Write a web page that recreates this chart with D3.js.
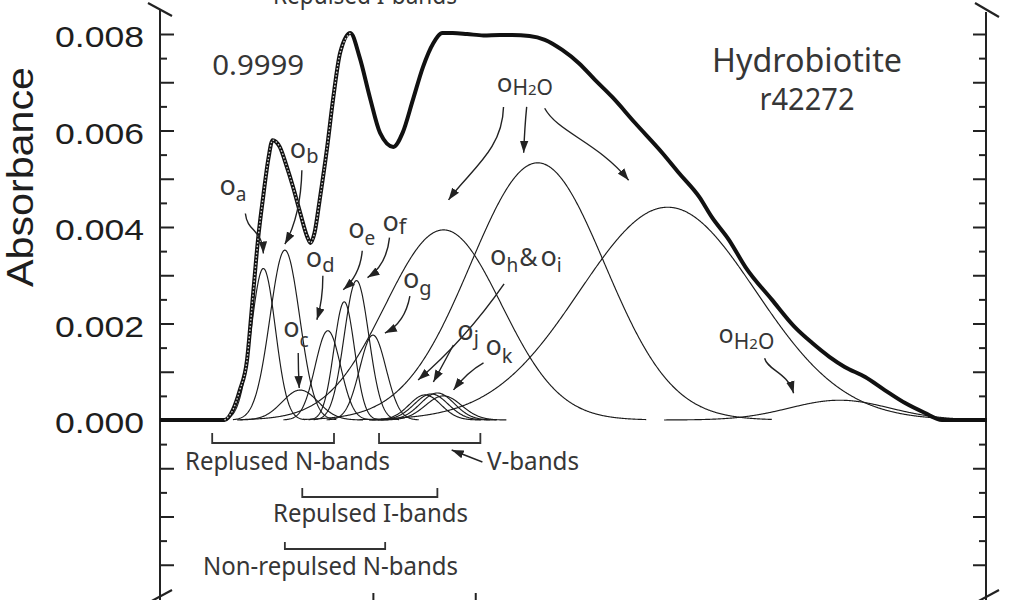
<!DOCTYPE html>
<html><head><meta charset="utf-8">
<script src="https://cdn.jsdelivr.net/npm/d3@7"></script>
<style>
body{margin:0;background:#fff;}
svg{display:block;}
</style>
</head><body>
<svg id="c" width="1024" height="600"></svg>
<script>
// ---------- DATA ----------
// measured spectrum (wavenumber, cm-1) and absorbance
const envWavenumber = [3808,3745,3737,3730,3723,3718,3712,3707,3702,3698,3691,3684,3678,3671,3664,3661,3657,3652,3645,3639,3632,3622,3613,3603,3593,3580,3571,3561,3551,3541,3532,3522,3508,3492,3476,3464,3447,3432,3415,3399,3383,3366,3344,3317,3301,3281,3269,3252,3236,3210,3188,3171,3154,3139,3119,3100,3080,3061,3044,3000];
const envAbsorbance = [0,0,0.0002,0.00062,0.00124,0.00238,0.00379,0.00466,0.00543,0.0058,0.00566,0.00524,0.00483,0.00429,0.00379,0.00367,0.00388,0.00456,0.0056,0.00663,0.00761,0.00802,0.00752,0.00669,0.00595,0.00566,0.00595,0.00663,0.00732,0.00781,0.00802,0.00802,0.008,0.00797,0.00798,0.00798,0.00796,0.00788,0.00767,0.0074,0.00705,0.00669,0.00616,0.00553,0.00512,0.00462,0.00421,0.00373,0.00317,0.00249,0.00193,0.0016,0.00131,0.0011,0.00089,0.00062,0.00035,0.00015,0,0];
// fitted bands
const bandNames   = ["oa","ob","oc","od","oe","of","og","oh","oi","oj","ok","oH2O","oH2O","oH2O","oH2O"];
const bandCenters = [3707,3686,3671,3644,3628,3616,3600,3549,3543,3537,3531,3531,3439,3312,3144];
const bandHeights = [0.00314,0.00352,0.00062,0.00185,0.00245,0.00289,0.00176,0.00052,0.00054,0.00056,0.00050,0.00394,0.00533,0.00441,0.00041];
const bandWidths  = [11.7,14.5,17.6,12.4,10.0,12.0,12.9,15.6,16.6,16.6,17.6,56.7,65.5,86,49];
// axis ticks
const yLabelTicks = [0,0.002,0.004,0.006,0.008];
const yMajorTicks = [-0.003,-0.002,-0.001,0,0.001,0.002,0.003,0.004,0.005,0.006,0.007,0.008];
const yMinorTicks = [-0.0025,-0.0015,-0.0005,0.0005,0.0015,0.0025,0.0035,0.0045,0.0055,0.0065,0.0075];
const xTicks = [3600,3500];
// band groups (wavenumber ranges)
const groupNames = ["Replused N-bands","V-bands","Repulsed I-bands","Non-repulsed N-bands"];
const groupStart = [3757,3594,3669,3686];
const groupEnd   = [3638,3495,3537,3588];

// ---------- LAYOUT ----------
const W = 1024, H = 600;
const svg = d3.select("#c");
const x = d3.scaleLinear().domain([3808,3000]).range([160,987]);
const y = d3.scaleLinear().domain([0,0.008]).range([420,34]);
const ink = "#222", txt = "#363636";
const annoFont = "'Noto Sans', 'Open Sans', sans-serif";

// arrow marker
svg.append("defs").append("marker")
  .attr("id","ah").attr("viewBox","0 -5 12 10").attr("refX",12).attr("refY",0)
  .attr("markerWidth",12).attr("markerHeight",10).attr("markerUnits","userSpaceOnUse")
  .attr("orient","auto")
  .append("path").attr("d","M0,-4.2L12,0L0,4.2Z").attr("fill",ink);

// ---------- AXES ----------
const axL = 160, axR = 986;
const yTop = y(0.0085);
svg.append("line").attr("x1",axL).attr("x2",axL).attr("y1",yTop).attr("y2",H).attr("stroke",ink).attr("stroke-width",2);
svg.append("line").attr("x1",axR).attr("x2",axR).attr("y1",yTop+2).attr("y2",H).attr("stroke",ink).attr("stroke-width",2);

function tickG(xpos, fn, vals, size){
  svg.append("g").attr("transform",`translate(${xpos},0)`)
    .call(fn(y).tickValues(vals).tickSize(size).tickFormat(""))
    .call(g=>g.select(".domain").remove())
    .selectAll("line").attr("stroke",ink).attr("stroke-width",2);
}
tickG(axL, d3.axisRight, yMajorTicks, 14);
tickG(axL, d3.axisRight, yMinorTicks, 7);
tickG(axR, d3.axisLeft, yMajorTicks, 13);
tickG(axR, d3.axisLeft, yMinorTicks, 7);

svg.append("g").attr("transform",`translate(${axL},0)`)
  .call(d3.axisLeft(y).tickValues(yLabelTicks).tickSize(0).tickPadding(16).tickFormat(d3.format(".3f")))
  .call(g=>g.select(".domain").remove())
  .selectAll("text")
  .attr("font-family","'Liberation Sans', Arial, sans-serif").attr("font-size",30)
  .attr("dy","0.42em").attr("fill","#1e1e1e")
  .attr("textLength",89).attr("lengthAdjust","spacingAndGlyphs");

// bottom x-axis (only tick stubs visible)
svg.append("g").attr("transform","translate(0,606)")
  .call(d3.axisTop(x).tickValues(xTicks).tickSize(13).tickFormat(""))
  .call(g=>g.select(".domain").remove())
  .selectAll("line").attr("stroke",ink).attr("stroke-width",2);

// axis break marks
[[148,3,172,16],[975,3,999,17],[148,603,172,590],[975,603,999,590]].forEach(b=>{
  svg.append("line").attr("x1",b[0]).attr("y1",b[1]).attr("x2",b[2]).attr("y2",b[3])
    .attr("stroke",ink).attr("stroke-width",2.2);
});

svg.append("text").attr("transform",`translate(33,177) rotate(-90)`)
  .attr("text-anchor","middle").attr("font-family","'Liberation Sans', Arial, sans-serif")
  .attr("font-size",36).attr("fill","#1e1e1e")
  .attr("textLength",220).attr("lengthAdjust","spacingAndGlyphs")
  .text("Absorbance");

// ---------- BANDS ----------
const line = d3.line().x(d=>x(d[0])).y(d=>y(d[1]));
function bandVal(i,w){ const z=(w-bandCenters[i])/bandWidths[i]; return bandHeights[i]*Math.exp(-0.5*z*z); }
const [wMax, wMin] = x.domain();
const bandG = svg.append("g");
bandCenters.forEach((c,i)=>{
  const s = bandWidths[i];
  const pts = d3.range(Math.min(wMax, c+3.5*s), Math.max(wMin, c-3.5*s), -0.5).map(w=>[w,bandVal(i,w)]);
  bandG.append("path").attr("d",line(pts)).attr("fill","none")
    .attr("stroke","#1c1c1c").attr("stroke-width",1.15);
});

// ---------- ENVELOPE ----------
const env = envWavenumber.map((w,i)=>[w,envAbsorbance[i]]);
const envLine = d3.line().x(d=>x(d[0])).y(d=>y(d[1])).curve(d3.curveMonotoneX);
svg.append("path").attr("d",envLine(env)).attr("fill","none")
  .attr("stroke","#111").attr("stroke-width",4).attr("stroke-linejoin","round");
// fitted sum, visible as dotted overlay on the left part
svg.append("path").attr("d",envLine(env.filter(d=>d[0]>=3620 && d[0]<=3746))).attr("fill","none")
  .attr("stroke","#d0d0d0").attr("stroke-width",1.4).attr("stroke-dasharray","1.6 1.9");

// ---------- ANNOTATIONS ----------
const peak = i => [x(bandCenters[i]), y(bandHeights[i])];
const bandNotes = [
 {at:0, pos:[-44,-73], parts:[["o",27,0],["a",19,6]], arrows:[{to:0, pts:[[-18,-55],[-16,-36],[-1,-40],[0,-15]]}]},
 {at:1, pos:[5,-92], parts:[["o",27,0],["b",20,5]], arrows:[{to:1, pts:[[17,-80],[16,-35],[0,-6]]}]},
 {at:2, pos:[-17,-53], parts:[["o",27,0],["c",19,10]], arrows:[{to:2, pts:[[-2,-37],[-2,-20],[-1,-2]]}]},
 {at:3, pos:[-22,-64], parts:[["o",27,0],["d",20,5]], arrows:[{to:3, pts:[[-5,-55],[-5,-30],[-11,-11]]}]},
 {at:4, pos:[4,-64], parts:[["o",27,0],["e",19,7]], arrows:[{to:4, pts:[[18,-51],[16,-27],[-1,-12]]}]},
 {at:5, pos:[26,-50], parts:[["o",27,0],["f",22,3]], arrows:[{to:5, pts:[[33,-43],[30,-15],[11,-3]]}]},
 {at:6, pos:[30,-47], parts:[["o",27,0],["g",20,7]], arrows:[{to:6, pts:[[37,-39],[32,-12],[12,-2]]}]},
 {at:7, pos:[65,-130], parts:[["o",27,0],["h",19,7],["&",25,1,1],["o",27,1,3],["i",19,7]], arrows:[{to:7, pts:[[79,-111],[40,-55],[-7,-15]]}]},
 {at:9, pos:[20,-53], parts:[["o",27,0],["j",20,5]], arrows:[{to:9, pts:[[16,-48],[8,-33],[-4,-11]]}]},
 {at:10, pos:[42,-41], parts:[["o",27,0],["k",20,8]], arrows:[{to:10, pts:[[40,-33],[24,-24],[10,-6]]}]},
 {at:12, pos:[-41,-71], parts:[["o",26,0],["H",21,3],["2",15,3],["O",21,3]], arrows:[
    {to:11, pts:[[60,-123],[59,-80],[27,-60],[5,-30]]},
    {to:12, pts:[[-11,-56],[-13,-36],[-14,-10]]},
    {to:13, pts:[[-123,-99],[-110,-75],[-70,-65],[-39,-27]]}]},
 {at:14, pos:[-121,-57], parts:[["o",25,0],["H",21,6],["2",15,6],["O",21,6]], arrows:[{to:14, pts:[[-75,-42],[-72,-30],[-52,-28],[-46,-7]]}]}
];
const annoG = svg.append("g");
bandNotes.forEach(n=>{
  const p = peak(n.at);
  const t = annoG.append("text").attr("x",p[0]+n.pos[0]).attr("y",p[1]+n.pos[1])
    .attr("font-family",annoFont).attr("fill",txt);
  let prev = 0;
  n.parts.forEach(pt=>{
    t.append("tspan").attr("font-size",pt[1]).attr("dy",pt[2]-prev).attr("dx",pt[3]||0).text(pt[0]);
    prev = pt[2];
  });
  n.arrows.forEach(a=>{
    const q = peak(a.to);
    const P = a.pts.map(d=>[q[0]+d[0], q[1]+d[1]]);
    const d = P.length===3
      ? `M${P[0]}Q${P[1]} ${P[2]}`
      : `M${P[0]}C${P[1]} ${P[2]} ${P[3]}`;
    annoG.append("path").attr("d",d).attr("fill","none").attr("stroke",ink)
      .attr("stroke-width",1.4).attr("marker-end","url(#ah)");
  });
});

// fit quality & sample
svg.append("text").attr("x",x(3757)).attr("y",75).attr("font-family",annoFont)
  .attr("font-size",27).attr("fill",txt).attr("textLength",92).attr("lengthAdjust","spacingAndGlyphs").text("0.9999");
svg.append("text").attr("x",807).attr("y",72).attr("text-anchor","middle").attr("font-family",annoFont)
  .attr("font-size",32).attr("fill",txt).attr("textLength",190).attr("lengthAdjust","spacingAndGlyphs").text("Hydrobiotite");
svg.append("text").attr("x",807).attr("y",110).attr("text-anchor","middle").attr("font-family",annoFont)
  .attr("font-size",31).attr("fill",txt).attr("textLength",95).attr("lengthAdjust","spacingAndGlyphs").text("r42272");

// band-group brackets
const bracketY = [443,443,497,549], bracketH = [10,10,9,7];
const groupText = [[185,470,205],[487,470,92],[273,522,195],[203,575,255]];
groupNames.forEach((g,i)=>{
  const x0 = x(groupStart[i]), x1 = x(groupEnd[i]), yb = bracketY[i];
  svg.append("path").attr("d",`M${x0},${yb-bracketH[i]}V${yb}H${x1}V${yb-bracketH[i]}`)
    .attr("fill","none").attr("stroke","#333").attr("stroke-width",1.8);
  svg.append("text").attr("x",groupText[i][0]).attr("y",groupText[i][1]).attr("font-family",annoFont)
    .attr("font-size",25).attr("fill",txt).attr("textLength",groupText[i][2]).attr("lengthAdjust","spacingAndGlyphs").text(g);
});
// V-bands pointer
svg.append("path").attr("d",`M${x(3493)},462L${x(3523)},450`).attr("fill","none")
  .attr("stroke",ink).attr("stroke-width",1.4).attr("marker-end","url(#ah)");
// label cropped at top of figure (as in the source figure)
svg.append("text").attr("x",273).attr("y",4).attr("font-family",annoFont)
  .attr("font-size",25).attr("fill",txt).attr("textLength",184).attr("lengthAdjust","spacingAndGlyphs").text("Repulsed I-bands");
</script>
</body></html>
